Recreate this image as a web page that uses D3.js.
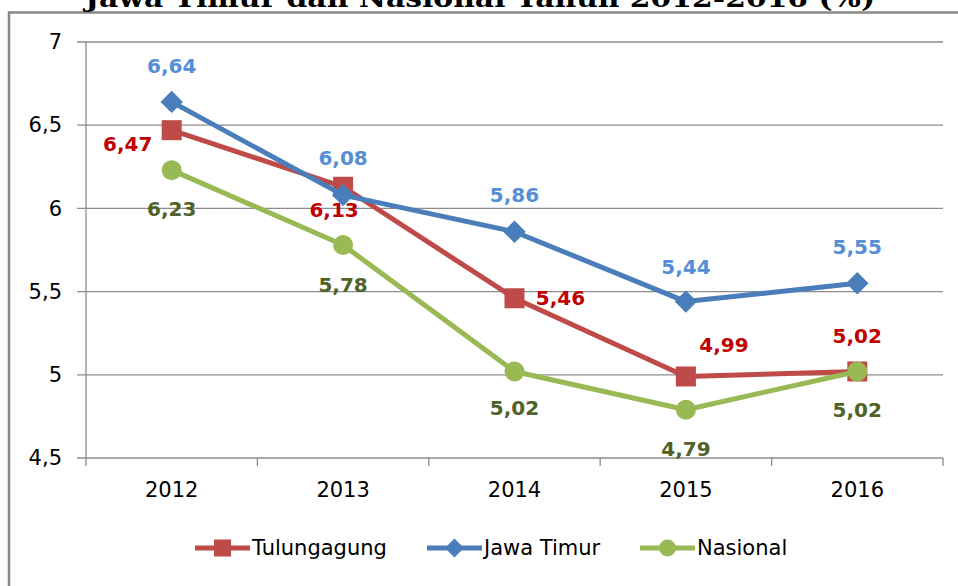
<!DOCTYPE html>
<html>
<head>
<meta charset="utf-8">
<script src="https://cdn.jsdelivr.net/npm/d3@7"></script>
<style>
  body { margin: 0; background: #fff; }
  svg { display: block; }
</style>
</head>
<body>
<div id="graph"></div>
<script>
// data
const years = ["2012", "2013", "2014", "2015", "2016"]
const tulungagung = [6.47, 6.13, 5.46, 4.99, 5.02]
const jawaTimur = [6.64, 6.08, 5.86, 5.44, 5.55]
const nasional = [6.23, 5.78, 5.02, 4.79, 5.02]
const yTicks = [4.5, 5, 5.5, 6, 6.5, 7]
const titleText = "Jawa Timur dan Nasional Tahun 2012-2016 (%)"

const W = 958, H = 586
const margin = {top: 42, right: 15, bottom: 128, left: 86}
const width = W - margin.left - margin.right
const height = H - margin.top - margin.bottom

const fmt = v => d3.format(".2f")(v).replace(".", ",")
const fmtTick = v => String(v).replace(".", ",")

const series = [
  {name: "Tulungagung", values: tulungagung, line: "#BE4B48", label: "#C00000", marker: "square",
   offsets: [[-44, 14], [-9, 23], [46, 0], [38, -31], [0, -35]]},
  {name: "Jawa Timur", values: jawaTimur, line: "#4A7EBB", label: "#558ED5", marker: "diamond",
   offsets: [[0, -36], [0, -37], [0, -37], [0, -35], [0, -36]]},
  {name: "Nasional", values: nasional, line: "#98B954", label: "#4F6228", marker: "circle",
   offsets: [[0, 39], [0, 40], [0, 37], [0, 39], [0, 39]]}
]

const svg = d3.select("#graph").append("svg")
  .attr("width", W)
  .attr("height", H)

// outer border (cut off on top/right like the source)
svg.append("path")
  .attr("d", `M9,${H} L9,12.5 L${W},12.5`)
  .attr("fill", "none")
  .attr("stroke", "#888")
  .attr("stroke-width", 2.5)

// title, half clipped at the top
svg.append("text")
  .attr("x", 480)
  .attr("y", 7)
  .attr("text-anchor", "middle")
  .attr("font-family", "'DejaVu Serif', serif")
  .attr("font-weight", "bold")
  .attr("font-size", 26)
  .attr("textLength", 790)
  .attr("lengthAdjust", "spacingAndGlyphs")
  .attr("fill", "#000")
  .text(titleText)

const g = svg.append("g")
  .attr("transform", `translate(${margin.left},${margin.top})`)

// scales
const x = d3.scaleBand().domain(years).range([0, width])
const y = d3.scaleLinear().domain([4.5, 7]).range([height, 0])
const cx = d => x(d) + x.bandwidth() / 2

// gridlines
g.selectAll(".grid")
  .data(yTicks)
  .join("line")
  .attr("x1", -9)
  .attr("x2", width)
  .attr("y1", d => y(d))
  .attr("y2", d => y(d))
  .attr("stroke", "#8c8c8c")
  .attr("stroke-width", 1.3)

// y axis
const yAxis = g.append("g")
  .call(d3.axisLeft(y).tickValues(yTicks).tickFormat(fmtTick).tickSize(0).tickPadding(24))
yAxis.select(".domain").remove()
yAxis.selectAll("text")
  .attr("font-family", "'DejaVu Sans', sans-serif")
  .attr("font-size", 21)
  .attr("fill", "#000")

g.append("line")
  .attr("x1", 0).attr("x2", 0)
  .attr("y1", 0).attr("y2", height + 8)
  .attr("stroke", "#8c8c8c")
  .attr("stroke-width", 1.3)

// x axis
const xAxis = g.append("g")
  .attr("transform", `translate(0,${height})`)
  .call(d3.axisBottom(x).tickSize(0).tickPadding(24))
xAxis.select(".domain").remove()
xAxis.selectAll("text")
  .attr("font-family", "'DejaVu Sans', sans-serif")
  .attr("font-size", 21)
  .attr("fill", "#000")

g.selectAll(".xtick")
  .data(years.slice(1).concat(["end"]))
  .join("line")
  .attr("x1", (d, i) => x.step() * (i + 1))
  .attr("x2", (d, i) => x.step() * (i + 1))
  .attr("y1", height)
  .attr("y2", height + 8)
  .attr("stroke", "#8c8c8c")
  .attr("stroke-width", 1.3)

// markers
const drawMarker = (sel, type, size, color) => {
  if (type === "square") {
    sel.append("rect")
      .attr("x", -size / 2).attr("y", -size / 2)
      .attr("width", size).attr("height", size)
      .attr("fill", color)
  } else if (type === "diamond") {
    const s = size * 0.56
    sel.append("path")
      .attr("d", `M0,${-s} L${s},0 L0,${s} L${-s},0 Z`)
      .attr("fill", color)
  } else {
    sel.append("circle")
      .attr("r", size / 2)
      .attr("fill", color)
  }
}

const lineGen = d3.line()
  .x((d, i) => cx(years[i]))
  .y(d => y(d))

series.forEach(s => {
  g.append("path")
    .datum(s.values)
    .attr("d", lineGen)
    .attr("fill", "none")
    .attr("stroke", s.line)
    .attr("stroke-width", 5)
    .attr("stroke-linejoin", "round")

  s.values.forEach((v, i) => {
    const m = g.append("g").attr("transform", `translate(${cx(years[i])},${y(v)})`)
    drawMarker(m, s.marker, 20, s.line)
  })
})

// data labels
series.forEach(s => {
  g.selectAll(null)
    .data(s.values)
    .join("text")
    .attr("x", (d, i) => cx(years[i]) + s.offsets[i][0])
    .attr("y", (d, i) => y(d) + s.offsets[i][1])
    .attr("text-anchor", "middle")
    .attr("dominant-baseline", "central")
    .attr("font-family", "'DejaVu Sans', sans-serif")
    .attr("font-weight", "bold")
    .attr("font-size", 20)
    .attr("fill", s.label)
    .text(d => fmt(d))
})

// legend
const legendX = [195, 427, 640]
const legend = svg.append("g").attr("transform", "translate(0,548)")
series.forEach((s, i) => {
  const lg = legend.append("g").attr("transform", `translate(${legendX[i]},0)`)
  lg.append("line")
    .attr("x1", 0).attr("x2", 55)
    .attr("y1", 0).attr("y2", 0)
    .attr("stroke", s.line)
    .attr("stroke-width", 5)
  const m = lg.append("g").attr("transform", "translate(27.5,0)")
  drawMarker(m, s.marker, 17, s.line)
  lg.append("text")
    .attr("x", 57)
    .attr("y", 0)
    .attr("dominant-baseline", "central")
    .attr("font-family", "'DejaVu Sans', sans-serif")
    .attr("font-size", 21)
    .attr("fill", "#000")
    .text(s.name)
})
</script>
</body>
</html>
